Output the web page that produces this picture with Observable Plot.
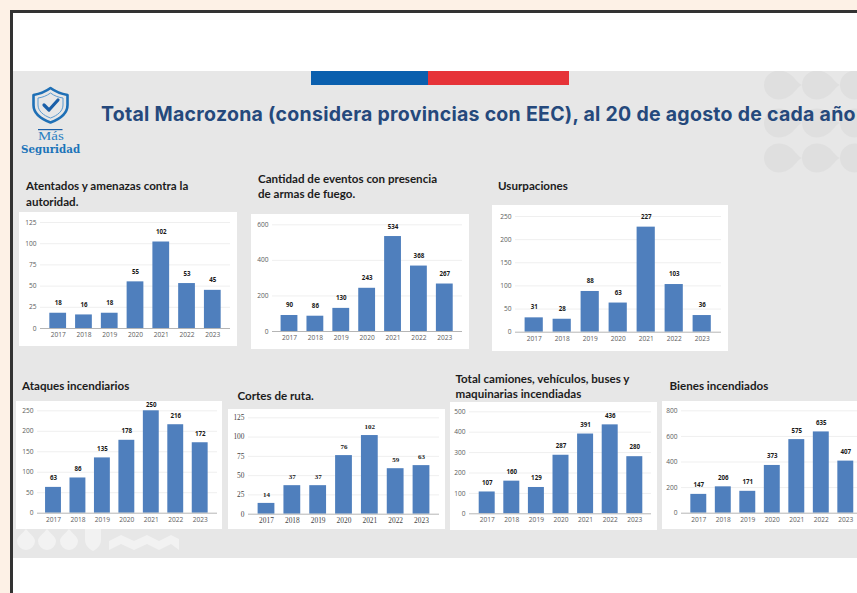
<!DOCTYPE html>
<html lang="es">
<head>
<meta charset="utf-8">
<script src="https://cdn.jsdelivr.net/npm/d3@7"></script>
<script src="https://cdn.jsdelivr.net/npm/@observablehq/plot@0.6"></script>
<style>
html,body{margin:0;padding:0;background:#fdf1e6;}
#page{position:relative;width:857px;height:593px;overflow:hidden;background:#fdf1e6;}
#frame{position:absolute;left:10px;top:10px;width:860px;height:600px;background:#fff;border:3px solid #333;box-sizing:border-box;}
#slide{position:absolute;left:13px;top:71px;width:860px;height:487px;background:#e7e7e7;}
.abs{position:absolute;}
.t{position:absolute;font:700 11.6px/15.5px Lato,sans-serif;color:#1c1c1c;white-space:pre;}
#main{position:absolute;left:101px;top:100px;font:700 19.5px/28px Inter,sans-serif;letter-spacing:.27px;color:#25497c;white-space:nowrap;}
</style>
</head>
<body>
<div id="page">
  <div id="frame"></div>
  <div id="slide"></div>
  <div class="abs" style="left:311px;top:71px;width:117px;height:14px;background:#0a5fae;"></div>
  <div class="abs" style="left:428px;top:71px;width:141px;height:14px;background:#e63338;"></div>
  <svg class="abs" style="left:13px;top:71px" width="844" height="487" viewBox="13 71 844 487">
    <g fill="#dfdfdf" id="dropsA"></g>
    <g fill="#f2f2f2">
      <path d="M26 529 C30 534 35 537 35 541 A9 9 0 1 1 17 541 C17 537 22 534 26 529Z"/>
      <path d="M47 529 C51 534 56 537 56 541 A9 9 0 1 1 38 541 C38 537 43 534 47 529Z"/>
      <path d="M69 529 C73 534 78 537 78 541 A9 9 0 1 1 60 541 C60 537 65 534 69 529Z"/>
      <path d="M85 529 L101 529 L101 540 Q101 547 93 551 Q85 547 85 540Z"/>
      <path d="M109 541 L121 535 L134 541 L147 535 L159 541 L171 535 L179 539 L179 550 L171 544 L159 550 L147 544 L134 550 L121 544 L109 550Z"/>
    </g>
  </svg>
  <svg class="abs" style="left:20px;top:84px" width="62" height="50" viewBox="20 84 62 50">
    <path d="M50.5 88 C56 92 62 94 67.5 95 L67.5 105 C67.5 113 60 119 50.5 122.5 C41 119 33.5 113 33.5 105 L33.5 95 C39 94 45 92 50.5 88Z" fill="none" stroke="#1f70b6" stroke-width="2.6" stroke-linejoin="round"/>
    <path d="M50.5 93 C54.5 96 59 97.5 63 98 L63 105 C63 111 57.5 115.5 50.5 118 C43.5 115.5 38 111 38 105 L38 98 C42 97.5 46.5 96 50.5 93Z" fill="none" stroke="#5c9bd0" stroke-width="1"/>
    <path d="M44 105 L49 110 L58 100" fill="none" stroke="#1a5fa8" stroke-width="3.2" stroke-linecap="round" stroke-linejoin="round"/>
    <rect x="38" y="129" width="24.5" height="1.2" fill="#1a5fa8"/>
  </svg>
  <div class="abs" style="left:38px;top:130px;font:400 11.5px/13px 'Liberation Serif',serif;color:#2b7fc2;transform:scaleX(1.3);transform-origin:left;">Más</div>
  <div class="abs" style="left:21px;top:143px;font:700 10.3px/12px 'DejaVu Serif',serif;color:#1b74b9;">Seguridad</div>
  <div id="main">Total Macrozona (considera provincias con EEC), al 20 de agosto de cada año</div>
  <div id="charts"></div>
</div>
<script>
const years = ["2017","2018","2019","2020","2021","2022","2023"];
const atentados = [18,16,18,55,102,53,45];
const armas = [90,86,130,243,534,368,267];
const usurpaciones = [31,28,88,63,227,103,36];
const ataques = [63,86,135,178,250,216,172];
const cortes = [14,37,37,76,102,59,63];
const camiones = [107,160,129,287,391,436,280];
const bienes = [147,206,171,373,575,635,407];

const titles = [
  "Atentados y amenazas contra la\nautoridad.",
  "Cantidad de eventos con presencia\nde armas de fuego.",
  "Usurpaciones",
  "Ataques incendiarios",
  "Cortes de ruta.",
  "Total camiones, vehículos, buses y\nmaquinarias incendiadas",
  "Bienes incendiados"
];
const tickSets = [
  [0,25,50,75,100,125],
  [0,200,400,600],
  [0,50,100,150,200,250],
  [0,50,100,150,200,250],
  [0,25,50,75,100,125],
  [0,100,200,300,400,500],
  [0,200,400,600,800]
];
const series = [atentados,armas,usurpaciones,ataques,cortes,camiones,bienes];

// layout only: panel box, axis extents, baseline and top tick, first/last bar centres, title anchor
const layout = [
  {px:[19,237],py:[212,346],ax:[40,230],y0:328,yt:222,c:[57.7,212.3],tx:26,ty:178,dy:-10},
  {px:[251,469],py:[214,349],ax:[272,462],y0:331,yt:224.3,c:[289,444.3],tx:258,ty:170.5,dy:-10},
  {px:[492,728],py:[205,351],ax:[515,721],y0:331.7,yt:216,c:[533.7,701.7],tx:498,ty:178,dy:-10.5},
  {px:[16,222],py:[401,529],ax:[37,217],y0:512.7,yt:410.3,c:[53,199.7],tx:22,ty:378,dy:-9},
  {px:[228,445],py:[409,529],ax:[248,439],y0:513.7,yt:417.3,c:[266,421],tx:237.5,ty:388,dy:-9,serif:true},
  {px:[450,657],py:[402,530],ax:[469,651],y0:513.3,yt:411.3,c:[486.7,634.3],tx:455.5,ty:370.5,dy:-9.3},
  {px:[662,880],py:[401,529],ax:[681,874],y0:512.7,yt:410.3,c:[698.3,845.3],tx:669.5,ty:378,dy:-9}
];

const host = document.getElementById("charts");
series.forEach((vals,i)=>{
  const L = layout[i];
  const data = years.map((y,k)=>({year:y,value:vals[k]}));
  const ticks = tickSets[i];
  const yMax = ticks[ticks.length-1];
  const step = (L.c[1]-L.c[0])/6;
  const font = L.serif ? "'Liberation Serif',serif" : "'Open Sans',sans-serif";
  const tickSize = L.serif ? 7.4 : 6.6;
  const labelSize = L.serif ? 7 : 6.2;
  const tickFill = L.serif ? "#444" : "#5c5c5c";
  const svg = Plot.plot({
    width: L.px[1]-L.px[0],
    height: L.py[1]-L.py[0],
    marginLeft: L.ax[0]-L.px[0],
    marginRight: L.px[1]-L.ax[1],
    marginTop: L.yt-L.py[0],
    marginBottom: L.py[1]-L.y0,
    style:{background:"#fff",fontFamily:font,overflow:"hidden"},
    x:{type:"band",domain:years,round:false,paddingInner:0.35,paddingOuter:0.175,
       insetLeft:L.c[0]-step/2-L.ax[0],insetRight:L.ax[1]-(L.c[1]+step/2),label:null},
    y:{domain:[0,yMax],label:null},
    marks:[
      Plot.ruleY(ticks.filter(t=>t>0),{stroke:"#efefef",strokeWidth:1}),
      Plot.barY(data,{x:"year",y:"value",fill:"#4f7fbd"}),
      Plot.ruleY([0],{stroke:"#b5b5b5",strokeWidth:1}),
      Plot.axisY({ticks,tickSize:0,tickPadding:4,fontSize:tickSize,fill:tickFill,label:null}),
      Plot.axisX({tickSize:0,tickPadding:4,fontSize:tickSize,fill:tickFill,label:null}),
      Plot.text(data.filter(d=>d.value<yMax),{x:"year",y:"value",text:d=>String(d.value),dy:L.dy,fontSize:labelSize,fontWeight:700,fill:"#1a1a1a"}),
      Plot.text(data.filter(d=>d.value>=yMax),{x:"year",y:"value",text:d=>String(d.value),dy:-6,fontSize:labelSize,fontWeight:700,fill:"#1a1a1a"})
    ]
  });
  svg.style.position="absolute";
  svg.style.left=L.px[0]+"px";
  svg.style.top=L.py[0]+"px";
  svg.style.maxWidth="none";
  host.appendChild(svg);
  const t=document.createElement("div");
  t.className="t";
  t.style.left=L.tx+"px";
  t.style.top=L.ty+"px";
  t.textContent=titles[i];
  host.appendChild(t);
});

// decorative leaf shapes, top right of the slide
const ns="http://www.w3.org/2000/svg";
const drops=document.getElementById("dropsA");
[85,123,158].forEach(cy=>[779,817,855].forEach(cx=>{
  const p=document.createElementNS(ns,"path");
  p.setAttribute("d",`M${cx+23} ${cy} C${cx+17} ${cy-2} ${cx+14} ${cy-14} ${cx} ${cy-14.5} A15 14.5 0 1 0 ${cx} ${cy+14.5} C${cx+14} ${cy+14} ${cx+17} ${cy+2} ${cx+23} ${cy}Z`);
  drops.appendChild(p);
}));
</script>
</body>
</html>
